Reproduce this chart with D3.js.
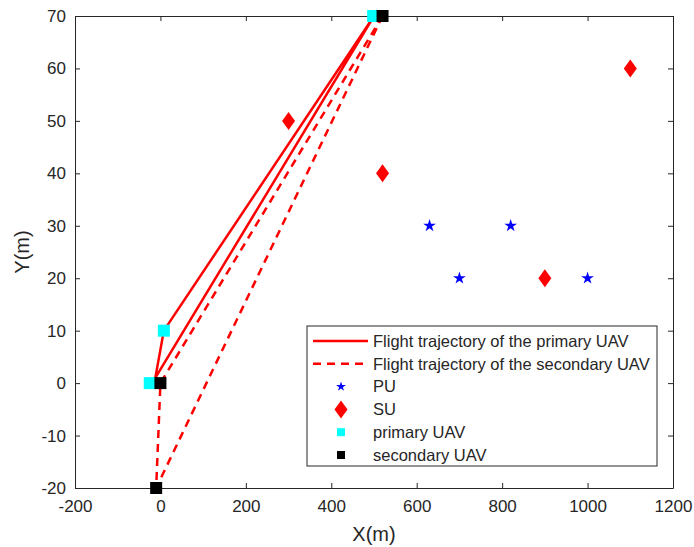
<!DOCTYPE html>
<html lang="en">
<head>
<meta charset="UTF-8">
<title>UAV trajectories</title>
<script src="https://d3js.org/d3.v7.min.js"></script>
<style>
  body { margin: 0; background: #fff; }
  text { font-family: "Liberation Sans", Arial, sans-serif; fill: #262626; }
</style>
</head>
<body>
<script>
  // data
  let xTicks = [-200, 0, 200, 400, 600, 800, 1000, 1200];
  let yTicks = [-20, -10, 0, 10, 20, 30, 40, 50, 60, 70];
  let primaryPath = [[500, 70], [8, 10], [-12, 1], [500, 70]];
  let secondaryPath = [[520, 70], [0, 0], [-10, -20], [520, 70]];
  let puPoints = [[630, 30], [820, 30], [700, 20], [1000, 20]];
  let suPoints = [[300, 50], [520, 40], [900, 20], [1100, 60]];
  let primaryUav = [[498, 70], [8, 10], [-25, 0]];
  let secondaryUav = [[520, 70], [0, 0], [-10, -20]];
  let legendLabels = ["Flight trajectory of the primary UAV", "Flight trajectory of the secondary UAV",
      "PU", "SU", "primary UAV", "secondary UAV"];

  let width = 694, height = 547;
  let plotLeft = 75, plotRight = 673, plotTop = 16, plotBottom = 488;

  let svg = d3.select('body').append('svg')
      .attr('width', width)
      .attr('height', height);

  let x = d3.scaleLinear().domain([-200, 1200]).range([plotLeft, plotRight]);
  let y = d3.scaleLinear().domain([-20, 70]).range([plotBottom, plotTop]);

  let axisColor = '#262626';
  let tickLen = 5;
  let fmt = function (d) { return String(d); };

  // axes, MATLAB style box with inward ticks
  let xAxis = svg.append('g').attr('transform', 'translate(0,' + plotBottom + ')')
      .call(d3.axisBottom(x).tickValues(xTicks).tickFormat(fmt).tickSizeInner(-tickLen).tickSizeOuter(0).tickPadding(12));
  let xTop = svg.append('g').attr('transform', 'translate(0,' + plotTop + ')')
      .call(d3.axisTop(x).tickValues(xTicks).tickSizeInner(-tickLen).tickSizeOuter(0).tickFormat(''));
  let yAxis = svg.append('g').attr('transform', 'translate(' + plotLeft + ',0)')
      .call(d3.axisLeft(y).tickValues(yTicks).tickFormat(fmt).tickSizeInner(-tickLen).tickSizeOuter(0).tickPadding(9));
  let yRight = svg.append('g').attr('transform', 'translate(' + plotRight + ',0)')
      .call(d3.axisRight(y).tickValues(yTicks).tickSizeInner(-tickLen).tickSizeOuter(0).tickFormat(''));

  [xAxis, xTop, yAxis, yRight].forEach(function (g) {
      g.select('.domain').attr('stroke', axisColor).attr('stroke-width', 1);
      g.selectAll('.tick line').attr('stroke', axisColor);
      g.selectAll('.tick text').style('font-size', '17px').attr('fill', axisColor)
          .style('font-family', '"Liberation Sans", Arial, sans-serif');
  });

  svg.append('text')
      .attr('x', (plotLeft + plotRight) / 2)
      .attr('y', 541)
      .attr('text-anchor', 'middle')
      .style('font-size', '20px')
      .text('X(m)');

  svg.append('text')
      .attr('transform', 'translate(29,' + ((plotTop + plotBottom) / 2) + ') rotate(-90)')
      .attr('text-anchor', 'middle')
      .style('font-size', '20px')
      .text('Y(m)');

  let line = d3.line().x(function (d) { return x(d[0]); }).y(function (d) { return y(d[1]); });

  svg.append('path')
      .attr('d', line(primaryPath))
      .attr('fill', 'none')
      .attr('stroke', 'red')
      .attr('stroke-width', 2.5);

  svg.append('path')
      .attr('d', line(secondaryPath))
      .attr('fill', 'none')
      .attr('stroke', 'red')
      .attr('stroke-width', 2.5)
      .attr('stroke-dasharray', '8,6');

  let star = d3.symbol().type(d3.symbolStar).size(50);
  let diamond = 'M0,-9L6.5,0L0,9L-6.5,0Z';
  let sq = 12;

  svg.selectAll('.pu').data(puPoints).enter().append('path')
      .attr('class', 'pu')
      .attr('d', star)
      .attr('transform', function (d) { return 'translate(' + x(d[0]) + ',' + y(d[1]) + ')'; })
      .attr('fill', 'blue');

  svg.selectAll('.su').data(suPoints).enter().append('path')
      .attr('class', 'su')
      .attr('d', diamond)
      .attr('transform', function (d) { return 'translate(' + x(d[0]) + ',' + y(d[1]) + ')'; })
      .attr('fill', 'red');

  svg.selectAll('.puav').data(primaryUav).enter().append('rect')
      .attr('class', 'puav')
      .attr('x', function (d) { return x(d[0]) - sq / 2; })
      .attr('y', function (d) { return y(d[1]) - sq / 2; })
      .attr('width', sq).attr('height', sq)
      .attr('fill', 'cyan');

  svg.selectAll('.suav').data(secondaryUav).enter().append('rect')
      .attr('class', 'suav')
      .attr('x', function (d) { return x(d[0]) - sq / 2; })
      .attr('y', function (d) { return y(d[1]) - sq / 2; })
      .attr('width', sq).attr('height', sq)
      .attr('fill', 'black');

  // legend
  let lgX = 307, lgY = 326, lgW = 350, lgH = 140, rowH = 22.8;
  let legend = svg.append('g');
  legend.append('rect')
      .attr('x', lgX).attr('y', lgY).attr('width', lgW).attr('height', lgH)
      .attr('fill', 'white').attr('stroke', axisColor).attr('stroke-width', 1);

  legendLabels.forEach(function (label, i) {
      let cy = lgY + 15 + i * rowH;
      let mx = lgX + 34;
      if (i === 0 || i === 1) {
          legend.append('line')
              .attr('x1', lgX + 6).attr('x2', lgX + 61)
              .attr('y1', cy).attr('y2', cy)
              .attr('stroke', 'red').attr('stroke-width', 2.5)
              .attr('stroke-dasharray', i === 1 ? '8,6' : null);
      } else if (i === 2) {
          legend.append('path').attr('d', d3.symbol().type(d3.symbolStar).size(30))
              .attr('transform', 'translate(' + mx + ',' + cy + ')').attr('fill', 'blue');
      } else if (i === 3) {
          legend.append('path').attr('d', diamond)
              .attr('transform', 'translate(' + mx + ',' + cy + ')').attr('fill', 'red');
      } else {
          legend.append('rect')
              .attr('x', mx - 4).attr('y', cy - 4).attr('width', 8).attr('height', 8)
              .attr('fill', i === 4 ? 'cyan' : 'black');
      }
      legend.append('text')
          .attr('x', lgX + 66)
          .attr('y', cy)
          .attr('dy', '0.35em')
          .style('font-size', '16.5px')
          .text(label);
  });
</script>
</body>
</html>
